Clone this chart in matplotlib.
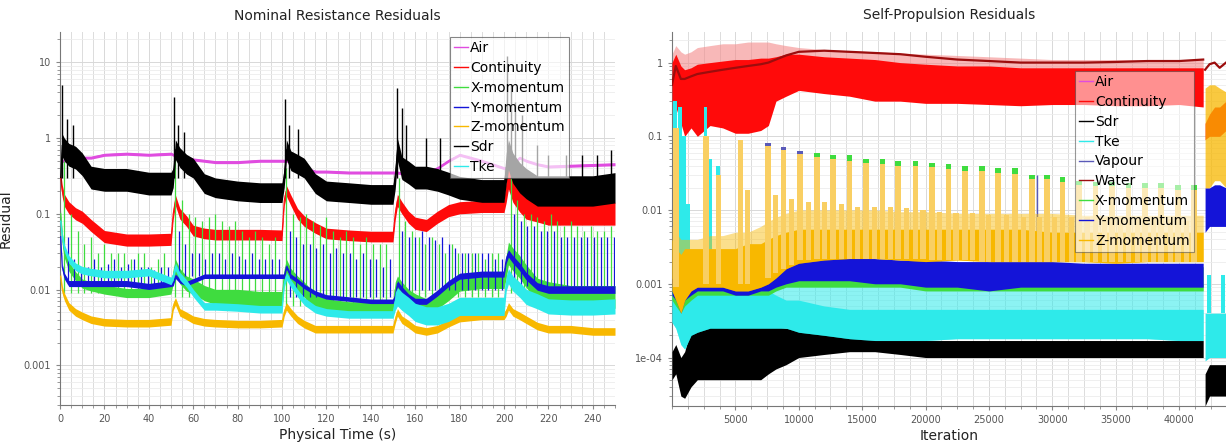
import matplotlib
matplotlib.use("Agg")
import matplotlib.pyplot as plt
from matplotlib.lines import Line2D
from matplotlib.ticker import MultipleLocator, LogLocator, FixedLocator, FixedFormatter, NullFormatter
import numpy as np

C_AIR = "#e04ce0"
C_CONT = "#ff0a0a"
C_X = "#3fdc3f"
C_Y = "#1414d8"
C_Z = "#f8b800"
C_SDR = "#000000"
C_TKE = "#2eeaea"
C_VAP = "#5a5ab8"
C_WATER = "#9c0d0d"

# ---------------- left panel: Nominal Resistance (physical time, s) ----------------
seg_t = [
    [0.3, 1, 2, 4, 7, 10, 14, 20, 30, 40, 50],
    [51, 52, 54, 57, 60, 65, 70, 80, 90, 100],
    [101, 102, 104, 107, 110, 115, 120, 130, 140, 150],
    [151, 152, 154, 157, 160, 165, 170, 175, 180, 190, 200],
    [201, 202, 204, 207, 210, 215, 220, 230, 240, 250],
]

air_nom = [
    [0.5, 0.5, 0.5, 0.5, 0.5, 0.55, 0.55, 0.6, 0.62, 0.6, 0.62],
    [0.6, 0.6, 0.55, 0.55, 0.52, 0.5, 0.48, 0.48, 0.5, 0.5],
    [0.5, 0.5, 0.5, 0.48, 0.4, 0.36, 0.36, 0.35, 0.35, 0.35],
    [0.35, 0.35, 0.34, 0.33, 0.33, 0.35, 0.4, 0.5, 0.6, 0.5, 0.4],
    [0.4, 0.4, 0.45, 0.55, 0.5, 0.45, 0.42, 0.43, 0.44, 0.45],
]
cont_nom = [
    [0.3, 0.2, 0.15, 0.12, 0.1, 0.09, 0.07, 0.05, 0.045, 0.045, 0.046],
    [0.1, 0.15, 0.1, 0.08, 0.06, 0.055, 0.053, 0.053, 0.053, 0.052],
    [0.15, 0.2, 0.15, 0.1, 0.08, 0.065, 0.055, 0.052, 0.05, 0.05],
    [0.1, 0.15, 0.12, 0.09, 0.075, 0.07, 0.09, 0.11, 0.12, 0.125, 0.125],
    [0.2, 0.3, 0.2, 0.15, 0.12, 0.11, 0.1, 0.1, 0.1, 0.1],
]
xmom_nom = [
    [0.1, 0.05, 0.03, 0.02, 0.015, 0.012, 0.011, 0.01, 0.009, 0.009, 0.01],
    [0.015, 0.02, 0.015, 0.012, 0.011, 0.009, 0.008, 0.008, 0.0075, 0.0075],
    [0.015, 0.02, 0.015, 0.012, 0.01, 0.007, 0.006, 0.0055, 0.0055, 0.0055],
    [0.01, 0.012, 0.01, 0.008, 0.007, 0.006, 0.007, 0.009, 0.012, 0.013, 0.013],
    [0.02, 0.03, 0.025, 0.02, 0.015, 0.01, 0.009, 0.008, 0.008, 0.008],
]
ymom_nom = [
    [0.05, 0.02, 0.015, 0.012, 0.012, 0.012, 0.012, 0.012, 0.012, 0.011, 0.012],
    [0.012, 0.015, 0.013, 0.012, 0.013, 0.015, 0.015, 0.015, 0.015, 0.015],
    [0.015, 0.02, 0.015, 0.013, 0.011, 0.009, 0.008, 0.0075, 0.007, 0.007],
    [0.008, 0.012, 0.01, 0.008, 0.007, 0.007, 0.009, 0.012, 0.015, 0.016, 0.016],
    [0.025, 0.03, 0.025, 0.02, 0.015, 0.011, 0.01, 0.01, 0.01, 0.01],
]
zmom_nom = [
    [0.015, 0.01, 0.008, 0.006, 0.005, 0.0045, 0.004, 0.0037, 0.0036, 0.0036, 0.0038],
    [0.006, 0.007, 0.005, 0.0045, 0.004, 0.0037, 0.0036, 0.0035, 0.0035, 0.0036],
    [0.005, 0.006, 0.005, 0.004, 0.0035, 0.003, 0.003, 0.003, 0.003, 0.003],
    [0.004, 0.005, 0.004, 0.0035, 0.003, 0.0028, 0.003, 0.0036, 0.0042, 0.0045, 0.0045],
    [0.005, 0.006, 0.005, 0.0045, 0.004, 0.0033, 0.003, 0.003, 0.0028, 0.0028],
]
sdr_nom = [
    [0.3, 0.8, 0.7, 0.6, 0.55, 0.45, 0.3, 0.28, 0.28, 0.25, 0.25],
    [0.3, 0.7, 0.55, 0.45, 0.4, 0.25, 0.22, 0.2, 0.19, 0.19],
    [0.3, 0.7, 0.5, 0.45, 0.4, 0.25, 0.2, 0.19, 0.18, 0.18],
    [0.3, 0.7, 0.4, 0.35, 0.3, 0.3, 0.28, 0.25, 0.22, 0.2, 0.2],
    [0.4, 0.6, 0.4, 0.3, 0.25, 0.2, 0.2, 0.2, 0.2, 0.22],
]
tke_nom = [
    [0.08, 0.05, 0.035, 0.025, 0.02, 0.018, 0.017, 0.016, 0.016, 0.017, 0.013],
    [0.015, 0.02, 0.015, 0.012, 0.009, 0.006, 0.006, 0.0058, 0.0055, 0.0055],
    [0.012, 0.015, 0.012, 0.009, 0.007, 0.0055, 0.005, 0.0047, 0.0047, 0.0047],
    [0.007, 0.008, 0.007, 0.006, 0.005, 0.0045, 0.0045, 0.005, 0.006, 0.006, 0.006],
    [0.012, 0.015, 0.012, 0.01, 0.008, 0.007, 0.006, 0.0058, 0.0058, 0.006],
]
# half-width of the noise band in decades, one value per segment
air_spread = [0.02, 0.02, 0.02, 0.02, 0.02]
cont_spread = [0.08, 0.07, 0.07, 0.08, 0.15]
xmom_spread = [0.06, 0.1, 0.1, 0.1, 0.15]
ymom_spread = [0.04, 0.03, 0.03, 0.04, 0.05]
zmom_spread = [0.05, 0.05, 0.05, 0.05, 0.05]
sdr_spread = [0.15, 0.13, 0.13, 0.15, 0.2]
tke_spread = [0.05, 0.05, 0.05, 0.12, 0.1]

# periodic spikes in each 50 s segment
seg_start = [0.5, 50.5, 100.5, 151.0, 201.5]
xm_spike_dt = [1.5, 4.5, 7.5, 10.5, 13.5, 16.5, 19.5, 22.5, 25.5, 28.5, 31.5, 34.5, 37.5, 40.5, 43.5, 46.5]
ym_spike_dt = [3, 6, 9, 12, 15, 18, 21, 24, 27, 30, 33, 36, 39, 42, 45, 48]
xm_spike_base = [0.009, 0.008, 0.006, 0.008, 0.009]
ym_spike_base = [0.012, 0.015, 0.008, 0.01, 0.011]
xm_spike_top = [
    [0.5, 0.1, 0.06, 0.04, 0.05, 0.03, 0.04, 0.03, 0.03, 0.03, 0.025, 0.03, 0.03, 0.02, 0.025, 0.03],
    [0.6, 0.15, 0.1, 0.09, 0.08, 0.09, 0.1, 0.08, 0.07, 0.08, 0.06, 0.05, 0.06, 0.05, 0.04, 0.05],
    [0.4, 0.1, 0.09, 0.1, 0.08, 0.07, 0.09, 0.06, 0.05, 0.06, 0.05, 0.04, 0.05, 0.04, 0.04, 0.04],
    [0.3, 0.08, 0.06, 0.05, 0.04, 0.05, 0.04, 0.03, 0.04, 0.03, 0.03, 0.03, 0.03, 0.025, 0.03, 0.03],
    [0.3, 0.15, 0.1, 0.1, 0.09, 0.08, 0.1, 0.08, 0.07, 0.08, 0.07, 0.06, 0.07, 0.06, 0.06, 0.07],
]
ym_spike_top = [
    [0.05, 0.025, 0.02, 0.02, 0.025, 0.02, 0.022, 0.025, 0.02, 0.022, 0.025, 0.02, 0.02, 0.018, 0.02, 0.02],
    [0.06, 0.04, 0.03, 0.03, 0.025, 0.03, 0.03, 0.025, 0.03, 0.028, 0.025, 0.03, 0.025, 0.025, 0.025, 0.025],
    [0.06, 0.05, 0.04, 0.04, 0.035, 0.04, 0.03, 0.035, 0.03, 0.03, 0.025, 0.03, 0.025, 0.025, 0.02, 0.025],
    [0.06, 0.05, 0.05, 0.06, 0.05, 0.045, 0.05, 0.04, 0.035, 0.03, 0.03, 0.03, 0.03, 0.03, 0.025, 0.025],
    [0.1, 0.08, 0.07, 0.07, 0.06, 0.06, 0.06, 0.05, 0.05, 0.05, 0.05, 0.05, 0.05, 0.05, 0.05, 0.05],
]
sdr_spike_t = [1, 3, 6, 51.5, 53, 56, 101.5, 103, 107, 152, 154, 156, 165, 171,
               201.5, 203, 205, 208, 215, 220, 228, 235, 242, 248]
sdr_spike_top = [5.0, 1.8, 1.5, 3.5, 1.5, 1.2, 3.3, 1.5, 1.3, 4.5, 2.5, 1.5, 1.0, 1.0,
                 12.0, 5.0, 3.0, 2.0, 0.8, 0.6, 0.6, 0.6, 0.6, 0.7]

# ---------------- right panel: Self-Propulsion (iterations) ----------------
it_main = [0, 300, 700, 1000, 1500, 2000, 3000, 4000, 5000, 6000, 7000, 7600, 8200, 9000, 10000,
           12000, 14000, 16000, 18000, 20000, 22500, 25000, 27500, 30000, 32500, 35000, 37500, 40000, 41900]
cont_lo = [0.3, 0.25, 0.15, 0.1, 0.13, 0.1, 0.14, 0.13, 0.11, 0.11, 0.12, 0.14, 0.3, 0.35, 0.42,
           0.38, 0.35, 0.3, 0.3, 0.28, 0.28, 0.27, 0.26, 0.27, 0.27, 0.26, 0.26, 0.27, 0.25]
cont_hi = [1.0, 1.3, 0.9, 0.8, 0.85, 0.95, 1.0, 1.05, 1.1, 1.1, 1.15, 1.15, 1.2, 1.3, 1.3,
           1.2, 1.15, 1.1, 1.0, 0.95, 0.9, 0.9, 0.85, 0.85, 0.85, 0.85, 0.85, 0.85, 0.85]
air_lo = [0.6, 0.6, 0.5, 0.5, 0.5, 0.55, 0.6, 0.6, 0.65, 0.65, 0.7, 0.7, 0.75, 0.8, 0.8,
          0.8, 0.75, 0.7, 0.7, 0.65, 0.6, 0.6, 0.6, 0.6, 0.6, 0.6, 0.6, 0.6, 0.6]
air_hi = [1.3, 1.7, 1.4, 1.3, 1.4, 1.6, 1.7, 1.8, 1.8, 1.9, 1.9, 1.9, 1.8, 1.7, 1.6,
          1.5, 1.45, 1.4, 1.35, 1.3, 1.25, 1.2, 1.15, 1.1, 1.1, 1.1, 1.1, 1.1, 1.1]
water_sp = [0.5, 0.9, 0.6, 0.6, 0.65, 0.7, 0.75, 0.8, 0.85, 0.9, 0.95, 1.0, 1.1, 1.25, 1.4,
            1.45, 1.4, 1.35, 1.3, 1.2, 1.1, 1.05, 1.0, 1.0, 1.0, 1.02, 1.05, 1.05, 1.1]
zmom_lo = [0.0008, 0.0006, 0.0004, 0.0006, 0.0008, 0.0009, 0.0009, 0.0009, 0.0008, 0.0008, 0.0009, 0.001, 0.0012, 0.0016, 0.0019,
           0.0021, 0.0022, 0.0022, 0.0021, 0.002, 0.0021, 0.002, 0.002, 0.002, 0.002, 0.0019, 0.002, 0.002, 0.002]
zmom_hi = [0.004, 0.003, 0.0025, 0.003, 0.003, 0.003, 0.003, 0.003, 0.003, 0.0035, 0.0035, 0.004, 0.0045, 0.005, 0.0055,
           0.0055, 0.0055, 0.0055, 0.0055, 0.0055, 0.0055, 0.0055, 0.0055, 0.005, 0.005, 0.005, 0.005, 0.005, 0.005]
zmom_light_hi = [0.006, 0.005, 0.004, 0.004, 0.004, 0.004, 0.0045, 0.0045, 0.005, 0.005, 0.006, 0.007, 0.008, 0.009, 0.01,
                 0.01, 0.01, 0.01, 0.0095, 0.0095, 0.009, 0.009, 0.009, 0.009, 0.0085, 0.0085, 0.0085, 0.0085, 0.0085]
ymom_lo = [0.0007, 0.0006, 0.0004, 0.0006, 0.0007, 0.0008, 0.0008, 0.0008, 0.0007, 0.0007, 0.0008, 0.0008, 0.0009, 0.001, 0.0011,
           0.0011, 0.0011, 0.001, 0.001, 0.0009, 0.0009, 0.0008, 0.0009, 0.0009, 0.0009, 0.0009, 0.0009, 0.0009, 0.0009]
ymom_hi = [0.0012, 0.001, 0.0007, 0.0009, 0.001, 0.0011, 0.0011, 0.0011, 0.001, 0.0011, 0.0012, 0.0013, 0.0016, 0.0019, 0.0021,
           0.0022, 0.0023, 0.0022, 0.0021, 0.0021, 0.002, 0.002, 0.002, 0.002, 0.0019, 0.0019, 0.0019, 0.0019, 0.0019]
xmom_lo = [0.0006, 0.0005, 0.0004, 0.0005, 0.0006, 0.0007, 0.0007, 0.0007, 0.0007, 0.0007, 0.0007, 0.0007, 0.0008, 0.0009, 0.0009,
           0.0009, 0.0009, 0.0009, 0.0009, 0.0008, 0.0008, 0.0008, 0.0008, 0.0008, 0.0008, 0.0008, 0.0008, 0.0008, 0.0008]
xmom_hi = [0.001, 0.0009, 0.0006, 0.0008, 0.0009, 0.001, 0.001, 0.001, 0.001, 0.001, 0.0011, 0.0012, 0.0014, 0.0017, 0.0019,
           0.002, 0.002, 0.002, 0.0019, 0.0019, 0.0018, 0.0018, 0.0018, 0.0018, 0.0017, 0.0017, 0.0017, 0.0017, 0.0017]
tke_lo = [0.0003, 0.00025, 0.00015, 0.00013, 0.0002, 0.00022, 0.00025, 0.00025, 0.00025, 0.00025, 0.00025, 0.00025, 0.00025, 0.00025, 0.00022,
          0.0002, 0.00018, 0.00017, 0.00017, 0.00017, 0.00018, 0.00018, 0.00018, 0.00018, 0.00018, 0.00018, 0.00018, 0.00017, 0.00017]
tke_hi = [0.0009, 0.0008, 0.0006, 0.0006, 0.0007, 0.0008, 0.0008, 0.0008, 0.0008, 0.0008, 0.0008, 0.0008, 0.0007, 0.0006, 0.0006,
          0.0005, 0.00045, 0.00045, 0.00045, 0.00045, 0.00045, 0.00045, 0.00045, 0.00045, 0.00045, 0.00045, 0.00045, 0.00045, 0.00045]
tke_light_hi = [0.001, 0.001, 0.0008, 0.0008, 0.0009, 0.0009, 0.0009, 0.0009, 0.0009, 0.0009, 0.0009, 0.001, 0.001, 0.0011, 0.0011,
                0.0011, 0.0011, 0.0011, 0.001, 0.001, 0.001, 0.001, 0.001, 0.001, 0.001, 0.001, 0.001, 0.001, 0.001]
sdr_lo = [0.00005, 0.00006, 0.00003, 0.000028, 0.00004, 0.00005, 0.00005, 0.00005, 0.00005, 0.00005, 0.00005, 0.00006, 0.00007, 0.00008, 0.0001,
          0.00011, 0.00012, 0.00012, 0.00011, 0.0001, 0.0001, 0.0001, 0.0001, 0.0001, 0.0001, 0.0001, 0.0001, 0.0001, 0.0001]
sdr_hi = [0.00012, 0.00015, 0.0001, 0.00012, 0.00025, 0.0003, 0.00033, 0.0003, 0.00033, 0.0003, 0.0003, 0.00028, 0.00026, 0.00025, 0.00025,
          0.00024, 0.00022, 0.00019, 0.00018, 0.00017, 0.00017, 0.00017, 0.00017, 0.00017, 0.00017, 0.00017, 0.00017, 0.00017, 0.00017]

# restart after iteration 42000
it_tail = [42050, 42400, 42800, 43200, 43700]
cont_tail_lo = [0.09, 0.1, 0.1, 0.1, 0.12]
cont_tail_hi = [0.15, 0.2, 0.25, 0.25, 0.3]
water_tail = [0.8, 0.95, 1.0, 0.85, 1.0]
zmom_tail_lo = [0.02, 0.02, 0.025, 0.025, 0.02]
zmom_tail_hi = [0.45, 0.5, 0.5, 0.45, 0.4]
ymom_tail_lo = [0.005, 0.006, 0.006, 0.006, 0.006]
ymom_tail_hi = [0.02, 0.02, 0.022, 0.022, 0.02]
tke_tail_lo = [0.00009, 0.0001, 0.0001, 0.0001, 0.0001]
tke_tail_hi = [0.0004, 0.0004, 0.0004, 0.0004, 0.0004]
sdr_tail_lo = [0.000022, 0.00003, 0.00003, 0.00003, 0.00003]
sdr_tail_hi = [0.00006, 0.00008, 0.00008, 0.00008, 0.00008]

# periodic Z-momentum bars (tall and short) with X-momentum / Vapour caps
bar_it = [300, 2700, 5400, 7600, 8800, 10100, 11450, 12700, 14000, 15300, 16600, 17800, 19200, 20500, 21800,
          23100, 24450, 25700, 27050, 28400, 29600, 30800, 32100, 33400, 34700, 36000, 37300, 38600, 39900, 41200]
zmom_bar_top = [0.13, 0.1, 0.09, 0.075, 0.065, 0.058, 0.052, 0.05, 0.047, 0.044, 0.042, 0.04, 0.04, 0.038, 0.036,
                0.034, 0.034, 0.032, 0.031, 0.026, 0.026, 0.024, 0.022, 0.021, 0.021, 0.02, 0.02, 0.02, 0.019, 0.019]
xmom_bar_top = [0.13, 0.1, 0.09, 0.075, 0.065, 0.058, 0.06, 0.056, 0.055, 0.05, 0.05, 0.046, 0.047, 0.044, 0.042,
                0.039, 0.04, 0.037, 0.037, 0.03, 0.03, 0.028, 0.025, 0.024, 0.024, 0.023, 0.023, 0.023, 0.022, 0.022]
bar_base = [0.0009, 0.001, 0.001, 0.0012, 0.0016, 0.0021, 0.0022, 0.0022, 0.0022, 0.0022, 0.0022, 0.0022, 0.0022, 0.0021, 0.0021,
            0.0021, 0.002, 0.002, 0.002, 0.002, 0.002, 0.002, 0.002, 0.002, 0.002, 0.002, 0.002, 0.002, 0.002, 0.002]
vap_cap_it = [7600, 8800, 10100]
vap_cap_top = [0.082, 0.071, 0.064]
short_it = [3650, 5950, 8150, 9450, 10750, 12050, 13350, 14650, 15950, 17200, 18500, 19800, 21100, 22400,
            23700, 25000, 26350, 27700, 29000, 30200, 31500, 32800, 34100, 35400, 36700, 38000, 39300, 40600]
zmom_short_top = [0.03, 0.019, 0.016, 0.014, 0.013, 0.013, 0.012, 0.011, 0.011, 0.011, 0.0105, 0.01, 0.0095, 0.009,
                  0.009, 0.0085, 0.0085, 0.008, 0.008, 0.008, 0.008, 0.008, 0.0078, 0.0078, 0.0075, 0.0075, 0.0075, 0.0072]
short_base = [0.001, 0.001, 0.0014, 0.0018, 0.0021, 0.0022, 0.0022, 0.0022, 0.0022, 0.0022, 0.0022, 0.0022, 0.0021, 0.0021,
              0.0021, 0.002, 0.002, 0.002, 0.002, 0.002, 0.002, 0.002, 0.002, 0.002, 0.002, 0.002, 0.002, 0.002]
tke_bar_it = [250, 650, 950, 1250, 2650, 3000, 3600, 42350, 43450]
tke_bar_top = [0.3, 0.25, 0.1, 0.012, 0.25, 0.05, 0.04, 0.0013, 0.0013]
tke_bar_base = [0.001, 0.001, 0.001, 0.001, 0.001, 0.001, 0.001, 0.0004, 0.0004]
vap_spike_it = [28800]
vap_spike_top = [0.03]

left_labels = ["Air", "Continuity", "X-momentum", "Y-momentum", "Z-momentum", "Sdr", "Tke"]
left_colors = [C_AIR, C_CONT, C_X, C_Y, C_Z, C_SDR, C_TKE]
right_labels = ["Air", "Continuity", "Sdr", "Tke", "Vapour", "Water", "X-momentum", "Y-momentum", "Z-momentum"]
right_colors = [C_AIR, C_CONT, C_SDR, C_TKE, C_VAP, C_WATER, C_X, C_Y, C_Z]


def flat(segs):
    return np.concatenate([np.asarray(s, dtype=float) for s in segs])


def seg_band(ax, center, spread, color, z):
    t = flat(seg_t)
    c = flat(center)
    s = np.concatenate([np.full(len(seg), w) for seg, w in zip(seg_t, spread)])
    ax.fill_between(t, c / 10 ** s, c * 10 ** s, color=color, lw=0, zorder=z)
    ax.plot(t, c, color=color, lw=0.8, zorder=z)


def span_bars(ax, x, top, base, width, color, z):
    top = np.asarray(top, dtype=float)
    base = np.broadcast_to(np.asarray(base, dtype=float), top.shape)
    ax.bar(x, top - base, bottom=base, width=width, color=color, lw=0, zorder=z)


def style_axes(ax):
    ax.set_yscale("log")
    for side in ("top", "right"):
        ax.spines[side].set_visible(False)
    for side in ("left", "bottom"):
        ax.spines[side].set_color("#777777")
        ax.spines[side].set_linewidth(0.8)
    ax.yaxis.set_minor_locator(LogLocator(base=10, subs=range(2, 10), numticks=20))
    ax.yaxis.set_minor_formatter(NullFormatter())
    ax.grid(which="major", color="#d8d8d8", lw=0.7, zorder=0)
    ax.grid(which="minor", color="#ececec", lw=0.6, zorder=0)
    ax.tick_params(which="both", labelsize=7, labelcolor="#555555", color="#888888")
    ax.tick_params(which="major", length=3)
    ax.tick_params(which="minor", length=2)
    ax.set_axisbelow(True)


def legend(ax, labels, colors, anchor, alpha):
    handles = [Line2D([], [], color=c, lw=1.0) for c in colors]
    leg = ax.legend(handles, labels, loc="upper left", bbox_to_anchor=anchor, fontsize=10,
                    handlelength=1.0, handletextpad=0.15, labelspacing=0.42, borderpad=0.3,
                    borderaxespad=0, fancybox=False, framealpha=alpha, edgecolor="#444444")
    leg.get_frame().set_linewidth(0.8)
    leg.set_zorder(20)


fig = plt.figure(figsize=(12.26, 4.43), dpi=100)

# ---- left panel ----
ax1 = fig.add_axes([60 / 1226, 1 - 405 / 443, 555 / 1226, 373 / 443])
style_axes(ax1)

seg_band(ax1, air_nom, air_spread, C_AIR, 2)
seg_band(ax1, cont_nom, cont_spread, C_CONT, 3)
for s0, tops, base in zip(seg_start, xm_spike_top, xm_spike_base):
    ax1.vlines([s0 + d for d in xm_spike_dt], base, tops, color=C_X, lw=0.9, zorder=4)
seg_band(ax1, xmom_nom, xmom_spread, C_X, 4)
for s0, tops, base in zip(seg_start, ym_spike_top, ym_spike_base):
    ax1.vlines([s0 + d for d in ym_spike_dt], base, tops, color=C_Y, lw=0.9, zorder=5)
seg_band(ax1, ymom_nom, ymom_spread, C_Y, 5)
seg_band(ax1, zmom_nom, zmom_spread, C_Z, 6)
ax1.vlines(sdr_spike_t, 0.3, sdr_spike_top, color=C_SDR, lw=1.0, zorder=7)
seg_band(ax1, sdr_nom, sdr_spread, C_SDR, 7)
seg_band(ax1, tke_nom, tke_spread, C_TKE, 8)

ax1.set_xlim(0, 250)
ax1.set_ylim(3e-4, 25)
ax1.xaxis.set_major_locator(MultipleLocator(20))
ax1.xaxis.set_minor_locator(MultipleLocator(5))
ax1.grid(which="minor", axis="x", color="#dcdcdc", lw=0.7)
ax1.yaxis.set_major_locator(FixedLocator([1e-3, 1e-2, 1e-1, 1, 10]))
ax1.yaxis.set_major_formatter(FixedFormatter(["0.001", "0.01", "0.1", "1", "10"]))
ax1.set_title("Nominal Resistance Residuals", fontsize=10, color="#222222", pad=9)
ax1.set_xlabel("Physical Time (s)", fontsize=10, color="#222222", labelpad=3)
ax1.set_ylabel("Residual", fontsize=10, color="#222222", labelpad=8)
legend(ax1, left_labels, left_colors, (0.703, 0.987), 0.65)

# ---- right panel ----
ax2 = fig.add_axes([672 / 1226, 1 - 406 / 443, 554 / 1226, 374 / 443])
style_axes(ax2)

ax2.fill_between(it_main, air_lo, air_hi, color="#f48a8a", alpha=0.6, lw=0, zorder=2)
ax2.fill_between(it_main, cont_lo, cont_hi, color=C_CONT, lw=0, zorder=3)
ax2.fill_between(it_tail, cont_tail_lo, cont_tail_hi, color=C_CONT, lw=0, zorder=3)
ax2.fill_between(it_main, sdr_lo, sdr_hi, color=C_SDR, lw=0, zorder=4)
ax2.fill_between(it_tail, sdr_tail_lo, sdr_tail_hi, color=C_SDR, lw=0, zorder=4)
ax2.fill_between(it_main, tke_lo, tke_light_hi, color=C_TKE, alpha=0.55, lw=0, zorder=5)
ax2.fill_between(it_main, tke_lo, tke_hi, color=C_TKE, lw=0, zorder=5)
ax2.fill_between(it_tail, tke_tail_lo, tke_tail_hi, color=C_TKE, lw=0, zorder=5)
span_bars(ax2, tke_bar_it, tke_bar_top, tke_bar_base, 300, C_TKE, 5)
span_bars(ax2, vap_cap_it, vap_cap_top, 0.05, 450, C_VAP, 6)
ax2.vlines(vap_spike_it, 0.005, vap_spike_top, color=C_VAP, lw=1.0, zorder=6)
ax2.plot(it_main, water_sp, color=C_WATER, lw=1.6, zorder=7)
ax2.plot(it_tail, water_tail, color=C_WATER, lw=1.6, zorder=7)
ax2.fill_between(it_main, xmom_lo, xmom_hi, color=C_X, lw=0, zorder=8)
span_bars(ax2, bar_it, xmom_bar_top, bar_base, 450, C_X, 8)
ax2.fill_between(it_main, ymom_lo, ymom_hi, color=C_Y, lw=0, zorder=9)
ax2.fill_between(it_tail, ymom_tail_lo, ymom_tail_hi, color=C_Y, lw=0, zorder=9)
ax2.fill_between(it_main, zmom_lo, zmom_light_hi, color=C_Z, alpha=0.45, lw=0, zorder=10)
ax2.fill_between(it_main, zmom_lo, zmom_hi, color=C_Z, lw=0, zorder=10)
ax2.fill_between(it_tail, zmom_tail_lo, zmom_tail_hi, color=C_Z, alpha=0.75, lw=0, zorder=10)
span_bars(ax2, bar_it, zmom_bar_top, bar_base, 450, "#f9cf63", 10)
span_bars(ax2, short_it, zmom_short_top, short_base, 400, "#f9cf63", 10)

ax2.set_xlim(0, 43700)
ax2.set_ylim(2.2e-5, 2.6)
ax2.xaxis.set_major_locator(FixedLocator([5000, 10000, 15000, 20000, 25000, 30000, 35000, 40000]))
ax2.xaxis.set_minor_locator(MultipleLocator(1250))
ax2.grid(which="minor", axis="x", color="#dcdcdc", lw=0.7)
ax2.yaxis.set_major_locator(FixedLocator([1e-4, 1e-3, 1e-2, 1e-1, 1]))
ax2.yaxis.set_major_formatter(FixedFormatter(["1e-04", "0.001", "0.01", "0.1", "1"]))
ax2.set_title("Self-Propulsion Residuals", fontsize=10, color="#222222", pad=9)
ax2.set_xlabel("Iteration", fontsize=10, color="#222222", labelpad=3)
legend(ax2, right_labels, right_colors, (0.727, 0.896), 0.55)

fig.savefig("out.png", dpi=100)
